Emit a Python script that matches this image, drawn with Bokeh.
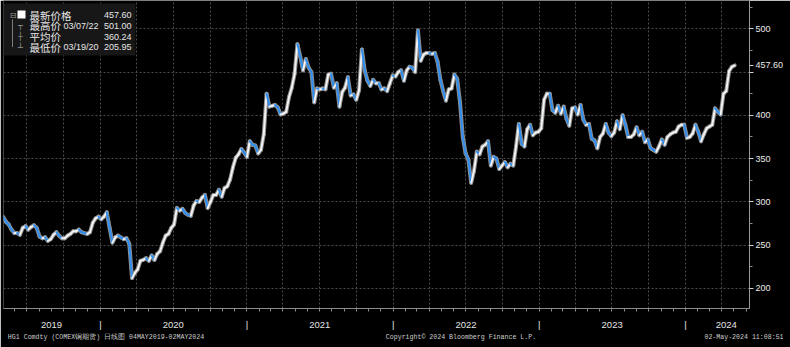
import pandas as pd
from bokeh.plotting import figure
from bokeh.models import (Range1d, FixedTicker, Label, BoxAnnotation, ColumnDataSource,
                          DatetimeAxis)
from bokeh.embed import file_html
from bokeh.resources import INLINE

# ---- weekly closes (cents/lb), HG1 Comdty ----
c2019 = [283, 277, 274, 268, 264,
         264, 262, 270, 272,
         268, 271, 273, 270,
         260, 258, 259, 255, 257,
         262, 265, 261, 258,
         258, 261, 263, 266,
         266, 268, 265, 264, 263,
         265, 276, 281, 283]
c2020 = [280, 283, 288, 270, 253,
         259, 261, 259, 257,
         258, 252, 212, 218,
         222, 232, 233, 235,
         232, 238, 233, 240, 243,
         253, 261, 263, 270,
         274, 293, 290, 292, 287,
         285, 284, 296, 301,
         300, 305, 308, 293,
         300, 308, 308, 314, 306,
         316, 318, 326, 340,
         351, 355, 361, 357]
c2021 = [352, 370, 366, 365, 356,
         360, 378, 425, 410,
         411, 412, 409, 401,
         402, 404, 421, 432, 448,
         482, 468, 452, 465,
         455, 450, 415, 431,
         430, 431, 430, 447, 448,
         432, 437, 410, 427,
         432, 444, 423, 424,
         418, 429, 476, 452, 440,
         434, 441, 437, 437,
         430, 431, 428, 437, 446]
c2022 = [445, 450, 452, 440,
         452, 456, 455, 450,
         498, 463, 470, 472,
         472, 471, 472, 462, 441,
         428, 417, 430, 431,
         447, 442, 415, 375,
         356, 349, 322, 336, 358,
         355, 364, 366, 370,
         342, 352, 350, 338, 342,
         346, 340, 344, 342,
         364, 390, 367, 364,
         384, 389, 377, 380, 381]
c2023 = [385, 418, 425, 425,
         406, 403, 411, 402,
         410, 396, 388, 408, 409,
         401, 412, 395, 389,
         390, 373, 371, 362,
         375, 379, 390, 380, 376,
         380, 393, 384, 400,
         389, 375, 375, 378,
         386, 377, 381, 369, 372,
         362, 360, 358, 364,
         372, 366, 375, 378,
         380, 381, 387, 389, 389]
c2024 = [374, 375, 379, 389,
         381, 370, 378, 385,
         387, 389, 408, 404, 401,
         425, 428, 451, 456,
         457.6]

year_names = ["2019", "2020", "2021", "2022", "2023", "2024"]
year_label_dates = ["2019-09-01", "2020-07-01", "2021-07-02", "2022-07-02", "2023-07-02", "2024-04-12"]
y_ticks = [200, 250, 300, 350, 400, 450, 500]
y_minor = [225, 275, 325, 375, 425, 475, 525]

legend_names = ["最新价格", "最高价", "平均价", "最低价"]
legend_dates = ["", "03/07/22", "", "03/19/20"]
legend_values = ["457.60", "501.00", "360.24", "205.95"]
last_price = 457.60
last_price_text = "457.60"

footer_texts = ["HG1 Comdty (COMEX铜期货)  日线图 04MAY2019-02MAY2024",
                "Copyright© 2024 Bloomberg Finance L.P.",
                "02-May-2024 11:08:51"]

# ---- build the weekly table ----
def fridays(a, b):
    return list(pd.date_range(a, b, freq="W-FRI"))

dates = (fridays("2019-05-03", "2019-12-31") + fridays("2020-01-01", "2020-12-31") +
         fridays("2021-01-01", "2021-12-31") + fridays("2022-01-01", "2022-12-31") +
         fridays("2023-01-01", "2023-12-31") + fridays("2024-01-01", "2024-05-03"))
closes = c2019 + c2020 + c2021 + c2022 + c2023 + c2024
assert len(dates) == len(closes), (len(dates), len(closes))

UP, DOWN = "#f2f2f2", "#2e8ef2"
x0, y0, x1, y1, colors = [], [], [], [], []
for i in range(1, len(closes)):
    x0.append(dates[i - 1]); y0.append(closes[i - 1])
    x1.append(dates[i]); y1.append(closes[i])
    colors.append(UP if closes[i] >= closes[i - 1] else DOWN)
src = ColumnDataSource(dict(x0=x0, y0=y0, x1=x1, y1=y1, color=colors))

W, H = 790, 347
FW, FB = 746, 308  # frame width / height
X_START, X_END = pd.Timestamp("2019-05-04"), pd.Timestamp("2024-06-09")
p = figure(width=W, height=H, x_axis_type="datetime", y_axis_location="right",
           output_backend="svg", toolbar_location=None,
           x_range=Range1d(X_START, X_END), y_range=Range1d(176.9, 532.6),
           background_fill_color="black", border_fill_color="black",
           outline_line_color=None,
           min_border_left=3, min_border_right=41, min_border_top=0, min_border_bottom=39)

def ms(t):
    return pd.Timestamp(t).value // 10**6

def px_to_ms(px):
    return ms(X_START) + px / FW * (ms(X_END) - ms(X_START))

year_starts = [ms(f"{y}-01-01") for y in range(2020, 2025)]
year_mids = [ms(d) for d in year_label_dates]
month_starts = [ms(t) for t in pd.date_range("2019-06-01", "2024-06-01", freq="MS")]
quarter_starts = [ms(t) for t in pd.date_range("2019-07-01", "2024-04-01", freq="QS")]

# axis 1: monthly minor ticks, year names and year separators
xa = p.xaxis[0]
xa.ticker = FixedTicker(ticks=year_mids + year_starts, minor_ticks=month_starts)
xa.major_label_overrides = {**{t: n for t, n in zip(year_mids, year_names)},
                            **{t: "|" for t in year_starts}}
xa.major_tick_in = 0
xa.major_tick_out = 0
xa.minor_tick_in = 0
xa.minor_tick_out = 3
xa.minor_tick_line_color = "#8a8a8a"
xa.axis_line_color = "#8a8a8a"
xa.major_label_standoff = 7
xa.major_label_text_color = "#e4e4e4"
xa.major_label_text_font = "Liberation Sans"
xa.major_label_text_font_size = "9.5px"

# axis 2: footer line
foot_centers = [px_to_ms(104.5), px_to_ms(457.5), px_to_ms(740.5)]
xb = DatetimeAxis(ticker=FixedTicker(ticks=foot_centers, minor_ticks=[]))
xb.major_label_overrides = {t: s for t, s in zip(foot_centers, footer_texts)}
xb.axis_line_color = None
xb.major_tick_line_color = None
xb.minor_tick_line_color = None
xb.major_tick_out = 0
xb.major_tick_in = 0
xb.minor_tick_out = 0
xb.minor_tick_in = 0
xb.major_label_standoff = 1
xb.major_label_text_color = "#cdcdcd"
xb.major_label_text_font = "Liberation Mono"
xb.major_label_text_font_size = "6.6px"
p.add_layout(xb, "below")

# right price axis, with the last price shown in place of the 450 label
ya = p.yaxis[0]
ya.ticker = FixedTicker(ticks=y_ticks + [last_price], minor_ticks=y_minor)
ya.major_label_overrides = {450: "", last_price: last_price_text}
ya.major_tick_in = 0
ya.major_tick_out = 4
ya.minor_tick_in = 0
ya.minor_tick_out = 3
ya.axis_line_color = "#9a9a9a"
ya.major_tick_line_color = "#d0d0d0"
ya.minor_tick_line_color = "#8a8a8a"
ya.major_label_text_color = "#ececec"
ya.major_label_text_font = "Liberation Sans"
ya.major_label_text_font_size = "9px"
ya.major_label_standoff = 2

p.xgrid.ticker = FixedTicker(ticks=quarter_starts)
p.ygrid.ticker = FixedTicker(ticks=y_ticks)
for g in (p.xgrid[0], p.ygrid[0]):
    g.grid_line_color = "#4c4c4c"
    g.grid_line_dash = "2 2"
    g.grid_line_width = 1

# price band: grey underlay + white (up) / blue (down) weekly moves
p.segment(x0="x0", y0="y0", x1="x1", y1="y1", source=src, line_color="#8c8c8c",
          line_width=4, line_cap="round")
p.segment(x0="x0", y0="y0", x1="x1", y1="y1", source=src, line_color="color",
          line_width=2, line_cap="round")

# legend box (top-left)
def sy(ref_y):
    return FB - ref_y

def sbox(l, r, t, b, color):
    return BoxAnnotation(left=l, right=r, top=sy(t), bottom=sy(b),
                         left_units="screen", right_units="screen",
                         top_units="screen", bottom_units="screen",
                         fill_color=color, fill_alpha=1, line_color=None, level="overlay")

p.add_layout(sbox(0, 132, 3, 55, "#171717"))
p.add_layout(sbox(8.5, 9.5, 19, 46.5, "#7a7a7a"))
p.add_layout(sbox(14, 22, 10, 18, "#ffffff"))
row_y = [14.5, 25.3, 36, 46.5]
icons = ["⊟", "┬", "┼", "┴"]
icon_x = [9.5, 17, 17, 17]
for i in range(4):
    common = dict(y=sy(row_y[i]), x_units="screen", y_units="screen",
                  text_baseline="middle", level="overlay")
    p.add_layout(Label(x=icon_x[i], text=icons[i], text_align="center", text_color="#9a9a9a",
                       text_font="DejaVu Sans", text_font_size="8px", **common))
    p.add_layout(Label(x=26, text=legend_names[i], text_align="left", text_color="#e6e6e6",
                       text_font="Noto Sans CJK SC", text_font_size="10.5px", **common))
    if legend_dates[i]:
        p.add_layout(Label(x=60, text=legend_dates[i], text_align="left", text_color="#e6e6e6",
                           text_font="Liberation Sans", text_font_size="9px", **common))
    p.add_layout(Label(x=128, text=legend_values[i], text_align="right", text_color="#e6e6e6",
                       text_font="Liberation Sans", text_font_size="9px", **common))

open("out.html", "w").write(file_html(p, INLINE))
